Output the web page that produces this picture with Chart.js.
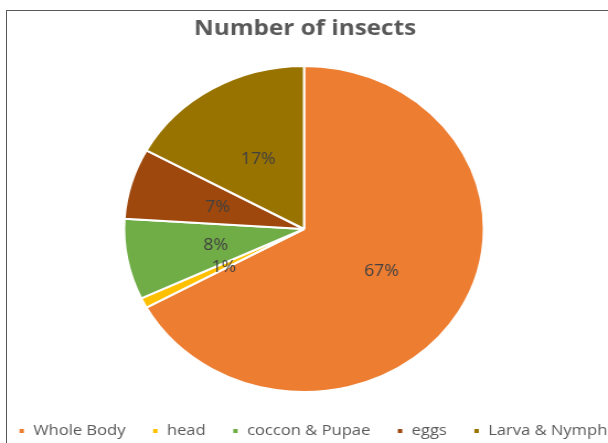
<!DOCTYPE html>
<html>
<head>
<meta charset="utf-8">
<script src="https://cdn.jsdelivr.net/npm/chart.js@4/dist/chart.umd.min.js"></script>
<style>
  body { margin: 0; background: #fff; }
  #frame { position: absolute; left: 6px; top: 10px; width: 700px; height: 500px;
           border-left: 1px solid #595959; border-top: 1px solid #595959; }
  /* the reference is stretched sideways, so the whole chart is too */
  #wrap { position: absolute; left: 0; top: 0; width: 551px; height: 443px;
          transform-origin: 0 0; transform: scaleX(1.1034); }
</style>
</head>
<body>
<div id="frame"></div>
<div id="wrap"><canvas id="insectPie"></canvas></div>
<script>
// data
var categories = ['Whole Body', 'head', 'coccon & Pupae', 'eggs', 'Larva & Nymph'];
var values = [67, 1, 8, 7, 17];
var sliceColors = ['#ED7D31', '#FFC000', '#70AD47', '#9E480E', '#997300'];

// percentage labels in the middle of each slice
var pctLabels = {
  id: 'pctLabels',
  afterLayout: function (chart) {
    // legend sits a little right of the pie in the reference
    chart.legend.left += 7;
    chart.legend.right += 7;
  },
  afterDatasetsDraw: function (chart) {
    var ctx = chart.ctx;
    var meta = chart.getDatasetMeta(0);
    var total = values.reduce(function (a, b) { return a + b; }, 0);
    ctx.save();
    ctx.fillStyle = '#404040';
    ctx.font = '16px "Open Sans"';
    ctx.textAlign = 'center';
    ctx.textBaseline = 'middle';
    meta.data.forEach(function (arc, i) {
      var p = arc.tooltipPosition();
      ctx.fillText(Math.round(values[i] / total * 100) + '%', p.x, p.y + 1);
    });
    ctx.restore();
  }
};

var ctx = document.getElementById('insectPie').getContext('2d');
var insectPie = new Chart(ctx, {
  type: 'pie',
  data: {
    labels: categories,
    datasets: [{
      label: 'Number of insects',
      data: values,
      backgroundColor: sliceColors,
      borderColor: '#ffffff',
      borderWidth: 2,
      radius: 163
    }]
  },
  options: {
    responsive: true,
    maintainAspectRatio: false,
    animation: false,
    layout: { padding: { top: 0, bottom: -5.5, left: -24, right: -26 } },
    plugins: {
      title: {
        display: true,
        text: 'Number of insects',
        color: '#595959',
        font: { family: 'Open Sans', size: 22, weight: 'bold' },
        padding: { top: 15.5, bottom: 16.6 }
      },
      legend: {
        position: 'bottom',
        labels: {
          color: '#595959',
          font: { family: 'Open Sans', size: 15 },
          boxWidth: 6,
          boxHeight: 6,
          padding: 24
        }
      },
      tooltip: { enabled: false }
    }
  },
  plugins: [pctLabels]
});
</script>
</body>
</html>
